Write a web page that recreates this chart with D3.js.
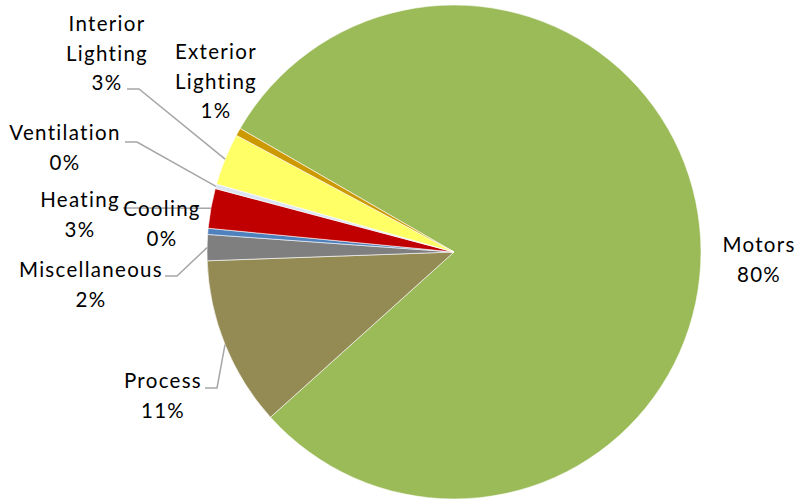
<!doctype html>
<html>
  <head>
    <script src="https://d3js.org/d3.v7.min.js"></script>
    <style>
      body { margin: 0; background: #fff; }
      .lbl { font-family: Lato, "Open Sans", sans-serif; font-size: 20.5px; letter-spacing: 1.3px; fill: #000; }
    </style>
  </head>
  <body>
    <svg id="chart" width="799" height="502"></svg>
    <script>
      // slices in clockwise order, starting at the Motors edge
      var categories = ["Motors", "Process", "Miscellaneous", "Cooling", "Heating", "Ventilation", "Interior Lighting", "Exterior Lighting"];
      var shares = [80.0, 11.1, 1.7, 0.4, 2.6, 0.3, 3.4, 0.5];
      var colors = ["#9BBB59", "#948A54", "#7F7F7F", "#4F81BD", "#C00000", "#DCE6F2", "#FFFF66", "#CC9900"];
      var labelLines = [["Motors"], ["Process"], ["Miscellaneous"], ["Cooling"], ["Heating"], ["Ventilation"], ["Interior", "Lighting"], ["Exterior", "Lighting"]];

      // where Excel put the data labels (first baseline) and leader starts
      var labelPos = {
        "Motors": {x: 759, y: 252},
        "Process": {x: 163, y: 388, lead: [205, 388]},
        "Miscellaneous": {x: 91, y: 277, lead: [165, 276]},
        "Cooling": {x: 162, y: 216},
        "Heating": {x: 80, y: 207, lead: [123, 208]},
        "Ventilation": {x: 65, y: 140, lead: [125, 142]},
        "Interior Lighting": {x: 107, y: 31, lead: [127, 89]},
        "Exterior Lighting": {x: 216, y: 59}
      };

      var svg = d3.select("#chart"),
        cx = 454, cy = 252, r = 247,
        lineH = 29.5;

      var data = categories.map(function(c, i) { return {name: c, value: shares[i], color: colors[i], lines: labelLines[i]}; });

      var start = 300 * Math.PI / 180;
      var pie = d3.pie().sort(null).value(function(d) { return d.value; })
        .startAngle(start).endAngle(start + 2 * Math.PI);
      var arc = d3.arc().innerRadius(0).outerRadius(r);
      var arcs = pie(data);

      var g = svg.append("g").attr("transform", "translate(" + cx + "," + cy + ")");
      g.selectAll("path.slice")
        .data(arcs)
        .enter().append("path")
        .attr("class", "slice")
        .attr("d", arc)
        .attr("fill", function(d) { return d.data.color; })
        .attr("stroke", "#fff")
        .attr("stroke-width", 0.6);

      // leader lines: text side -> short horizontal -> slice mid point on the rim
      arcs.forEach(function(d) {
        var p = labelPos[d.data.name];
        if (!p.lead) return;
        var mid = (d.startAngle + d.endAngle) / 2;
        var ex = cx + r * Math.sin(mid), ey = cy - r * Math.cos(mid);
        var sx = p.lead[0], sy = p.lead[1];
        svg.append("polyline")
          .attr("points", [[sx, sy], [sx + 12, sy], [ex, ey]].map(function(q) { return q.join(","); }).join(" "))
          .attr("fill", "none")
          .attr("stroke", "#A6A6A6")
          .attr("stroke-width", 1.5);
      });

      var fmt = d3.format(".0f");
      arcs.forEach(function(d) {
        var p = labelPos[d.data.name];
        var t = svg.append("text").attr("class", "lbl").attr("text-anchor", "middle");
        var rows = d.data.lines.concat([fmt(d.data.value) + "%"]);
        rows.forEach(function(s, i) {
          t.append("tspan").attr("x", p.x).attr("y", p.y + i * lineH).text(s);
        });
      });
    </script>
  </body>
</html>
